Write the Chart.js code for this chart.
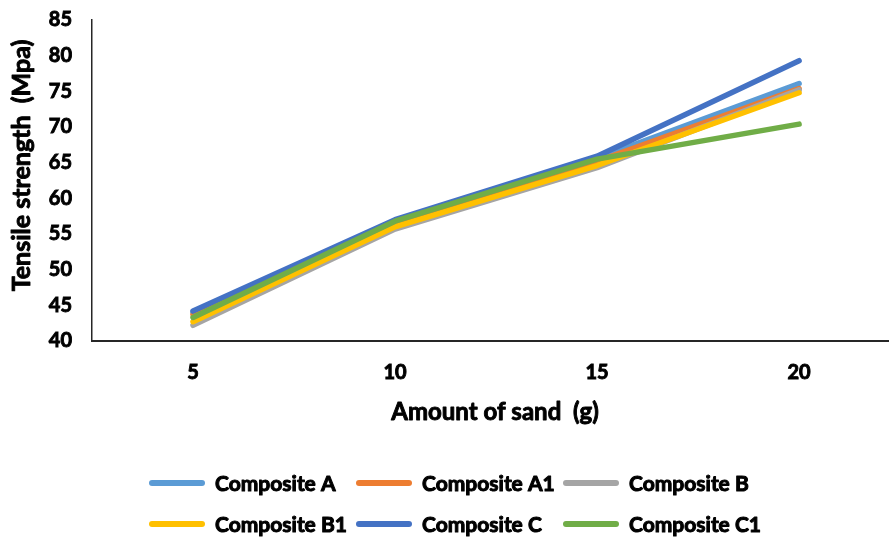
<!DOCTYPE html>
<html>
<head>
<meta charset="utf-8">
<script src="https://cdn.jsdelivr.net/npm/chart.js@4/dist/chart.umd.min.js"></script>
<style>
  html, body { margin: 0; padding: 0; background: #ffffff; }
  #wrap { width: 891px; height: 543px; position: relative; }
</style>
</head>
<body>
<div id="wrap"><canvas id="chart" width="891" height="543"></canvas></div>
<script>
// Sand amount (g) on the x axis
const sandAmounts = [5, 10, 15, 20];

// Tensile strength (MPa) for each composite
const compositeA  = [44.0, 56.5, 65.6, 76.1];
const compositeA1 = [43.7, 56.3, 65.2, 75.4];
const compositeB  = [42.2, 55.7, 64.3, 75.2];
const compositeB1 = [42.7, 56.0, 64.6, 74.8];
const compositeC  = [44.2, 57.0, 65.9, 79.3];
const compositeC1 = [43.3, 56.8, 65.5, 70.4];

const yTicks = [40, 45, 50, 55, 60, 65, 70, 75, 80, 85];

const seriesNames  = ['Composite A', 'Composite A1', 'Composite B', 'Composite B1', 'Composite C', 'Composite C1'];
const seriesValues = [compositeA, compositeA1, compositeB, compositeB1, compositeC, compositeC1];
const seriesColors = ['#5B9BD5', '#ED7D31', '#A5A5A5', '#FFC000', '#4472C4', '#70AD47'];

const xTitle = 'Amount of sand  (g)';
const yTitle = 'Tensile strength  (Mpa)';

const FONT = 'Lato, "Liberation Sans", sans-serif';

const datasets = seriesNames.map((name, i) => ({
  label: name,
  data: sandAmounts.map((x, k) => ({ x, y: seriesValues[i][k] })),
  borderColor: seriesColors[i],
  backgroundColor: seriesColors[i],
  borderWidth: 5.5,
  pointRadius: 0,
  pointHoverRadius: 0,
  tension: 0,
  borderCapStyle: 'round',
  borderJoinStyle: 'round',
  fill: false,
  // later series are painted over earlier ones
  order: seriesNames.length - i
}));

// heavy text: fill plus a thin stroke in the same colour
function heavyText(ctx, text, x, y, size, stroke) {
  ctx.font = 'bold ' + size + 'px ' + FONT;
  ctx.fillStyle = '#000000';
  ctx.strokeStyle = '#000000';
  ctx.lineWidth = stroke;
  ctx.lineJoin = 'round';
  ctx.strokeText(text, x, y);
  ctx.fillText(text, x, y);
}

// Axis titles and a three-column legend grid under the plot
const annotations = {
  id: 'annotations',
  afterDraw(chart) {
    const ctx = chart.ctx;
    const area = chart.chartArea;
    ctx.save();
    ctx.textAlign = 'center';
    ctx.textBaseline = 'middle';

    // x axis title
    heavyText(ctx, xTitle, (area.left + area.right) / 2 + 5, area.bottom + 71, 24, 0.9);

    // y axis title
    ctx.save();
    ctx.translate(22, (area.top + area.bottom) / 2 - 15);
    ctx.rotate(-Math.PI / 2);
    heavyText(ctx, yTitle, 0, 0, 25, 0.9);
    ctx.restore();

    // legend
    const cols = [149, 356, 563];
    const rows = [483, 524];
    const lineLen = 56;
    ctx.textAlign = 'left';
    chart.data.datasets.forEach((ds, i) => {
      const x = cols[i % 3];
      const y = rows[Math.floor(i / 3)];
      ctx.strokeStyle = ds.borderColor;
      ctx.lineWidth = 6;
      ctx.lineCap = 'round';
      ctx.beginPath();
      ctx.moveTo(x + 3, y);
      ctx.lineTo(x + lineLen - 3, y);
      ctx.stroke();
      heavyText(ctx, ds.label, x + lineLen + 10, y + 1, 21, 1);
    });
    ctx.restore();
  }
};

new Chart(document.getElementById('chart'), {
  type: 'line',
  data: { datasets },
  plugins: [annotations],
  options: {
    responsive: false,
    animation: false,
    layout: { padding: { left: 0, right: 3, top: 20, bottom: 102 } },
    plugins: {
      legend: { display: false },
      tooltip: { enabled: false }
    },
    scales: {
      x: {
        type: 'linear',
        min: 2.5,
        max: 22.2,
        afterBuildTicks(scale) { scale.ticks = sandAmounts.map(v => ({ value: v })); },
        grid: { display: false, drawTicks: false },
        border: { display: true, color: '#262626', width: 2 },
        ticks: {
          color: '#000000',
          padding: 20,
          textStrokeColor: '#000000',
          textStrokeWidth: 0.9,
          font: { family: FONT, size: 20, weight: 'bold' }
        },
        afterFit(scale) { scale.height = 100; }
      },
      y: {
        min: 40,
        max: 85,
        afterBuildTicks(scale) { scale.ticks = yTicks.map(v => ({ value: v })); },
        grid: { display: false, drawTicks: true, tickLength: 14 },
        border: { display: true, color: '#262626', width: 1.5 },
        ticks: {
          color: '#000000',
          padding: 6,
          textStrokeColor: '#000000',
          textStrokeWidth: 0.9,
          font: { family: FONT, size: 20, weight: 'bold' }
        },
        afterFit(scale) { scale.width = 92; }
      }
    }
  }
});
</script>
</body>
</html>
